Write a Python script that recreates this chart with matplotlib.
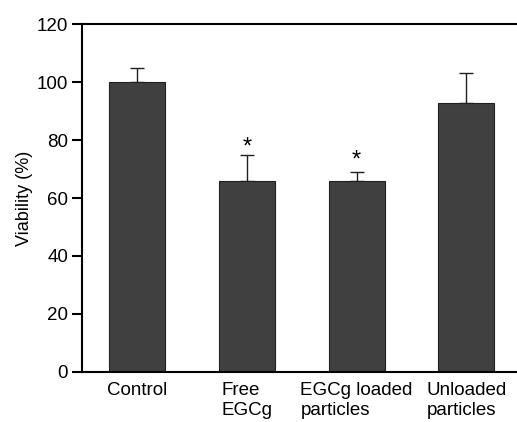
import matplotlib.pyplot as plt

plt.rcParams['font.family'] = ['Liberation Sans', 'DejaVu Sans']

# Data
groups = ['Control', 'Free\nEGCg', 'EGCg loaded\nparticles', 'Unloaded\nparticles']
viability = [100, 66, 66, 92.6]
errors = [5, 9, 3, 10.4]
stars = ['', '*', '*', '']
star_y = [0, 77.5, 73.0, 0]

fig = plt.figure(figsize=(5.17, 4.22), dpi=100)
ax = fig.add_axes([0.1586, 0.1185, 0.8414, 0.8246])

x = range(len(groups))
ax.bar(x, viability, width=0.51, color='#404040', edgecolor='#202020', linewidth=0.8, zorder=2)
ax.errorbar(x, viability, yerr=[[0] * len(errors), errors], fmt='none',
            ecolor='#202020', elinewidth=1.0, capsize=5, capthick=1.0, zorder=1)

for i, s in enumerate(stars):
    if s:
        ax.text(i, star_y[i], s, ha='center', va='center', fontsize=17)

ax.set_xlim(-0.5, 3.46)
ax.set_ylim(0, 120)
ax.set_yticks([0, 20, 40, 60, 80, 100, 120])
ax.set_xticks(list(x))
ax.set_xticklabels(groups, multialignment='left', fontsize=13.5, linespacing=1.25)
ax.tick_params(axis='x', length=0, pad=7)
ax.tick_params(axis='y', direction='out', length=7, width=1.5, labelsize=13.5, pad=3)
ax.set_ylabel('Viability (%)', fontsize=13, labelpad=3)

ax.spines['right'].set_visible(False)
for side in ['left', 'top', 'bottom']:
    ax.spines[side].set_linewidth(1.5)
    ax.spines[side].set_color('black')

fig.savefig('out.png', dpi=100)
